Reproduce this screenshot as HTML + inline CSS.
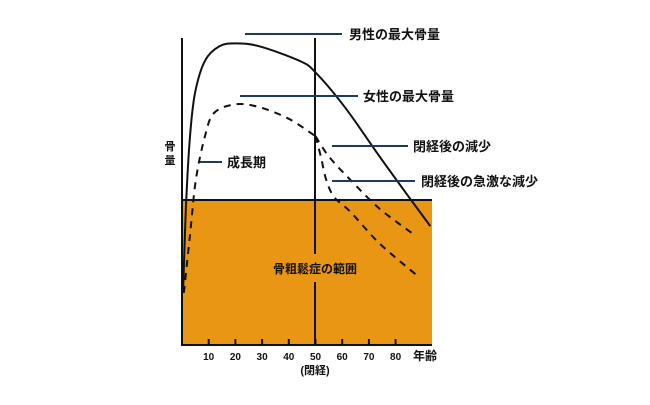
<!DOCTYPE html>
<html><head><meta charset="utf-8"><style>
body{margin:0;background:#fff}
svg text{font-family:"Liberation Sans","Noto Sans CJK JP",sans-serif;font-weight:bold;fill:#111}
</style></head><body>
<svg width="650" height="400" viewBox="0 0 650 400">
<rect x="182" y="200" width="250" height="145" fill="#e99614"/>
<g id="marks"></g>
<line x1="182" y1="200" x2="432" y2="200" stroke="#111" stroke-width="2"/>
<line x1="182" y1="38" x2="182" y2="346" stroke="#111" stroke-width="2"/>
<line x1="181" y1="345" x2="432" y2="345" stroke="#111" stroke-width="2"/>
<line x1="315" y1="38" x2="315" y2="254" stroke="#111" stroke-width="2"/>
<line x1="315" y1="282" x2="315" y2="345" stroke="#111" stroke-width="2"/>
<text x="315" y="273" font-size="12" text-anchor="middle">骨粗鬆症の範囲</text>
<g id="ticks"></g>
<text x="413" y="360" font-size="12">年齢</text>
<text x="315" y="374" font-size="11" text-anchor="middle">(閉経)</text>
<text x="170" y="150" font-size="11" text-anchor="middle">骨</text>
<text x="170" y="164" font-size="11" text-anchor="middle">量</text>
<g stroke="#1f3a5f" stroke-width="2">
<line x1="245" y1="34" x2="342" y2="34"/>
<line x1="240" y1="96" x2="358" y2="96"/>
<line x1="332" y1="146" x2="408" y2="146"/>
<line x1="332" y1="181" x2="415" y2="181"/>
<line x1="200" y1="162" x2="222" y2="162"/>
</g>
<text x="349" y="39" font-size="13">男性の最大骨量</text>
<text x="363" y="101" font-size="13">女性の最大骨量</text>
<text x="413" y="151" font-size="13">閉経後の減少</text>
<text x="421" y="186" font-size="13">閉経後の急激な減少</text>
<text x="227" y="167" font-size="13">成長期</text>
</svg>
<script>
const tickAges=[10,20,30,40,50,60,70,80];
const maleAges=[0.4,1.5,3,4.9,8.6,14,20,29,44,50,61,74,85,93];
const maleVals=[18,48,72,87,98,103,104,103,98,94,82,65,51,41];
const femaleAges=[0.7,3,5.2,8.6,12,20,29,40,50];
const femaleVals=[18,38,57,72,80,83,82,78,72];
const gradAges=[50,55,63,74,87];
const gradVals=[72,65,57,47,38];
const rapidAges=[50,52,54,57,63,74,88];
const rapidVals=[72,65,57,51,46,35,24];
const xS=a=>182+a*2.67;
const yS=v=>345-v*2.9;
const NS="http://www.w3.org/2000/svg";
function pathD(xs,ys){
  const p=xs.map((a,i)=>[xS(a),yS(ys[i])]);
  let d="M"+p[0][0]+","+p[0][1];
  for(let i=0;i<p.length-1;i++){
    const p0=p[Math.max(0,i-1)],p1=p[i],p2=p[i+1],p3=p[Math.min(p.length-1,i+2)];
    const c1=[p1[0]+(p2[0]-p0[0])/6,p1[1]+(p2[1]-p0[1])/6];
    const c2=[p2[0]-(p3[0]-p1[0])/6,p2[1]-(p3[1]-p1[1])/6];
    d+=" C"+c1+" "+c2+" "+p2;
  }
  return d;
}
const g=document.getElementById("marks");
function add(xs,ys,name,dash){
  const el=document.createElementNS(NS,"path");
  el.setAttribute("d",pathD(xs,ys));
  el.setAttribute("fill","none");
  el.setAttribute("stroke","#111");
  el.setAttribute("stroke-width","2");
  if(dash)el.setAttribute("stroke-dasharray","7 6");
  
  
  g.appendChild(el);
}
add(maleAges,maleVals,"male-curve",false);
add(femaleAges,femaleVals,"female-curve",true);
add(gradAges,gradVals,"female-gradual-decline",true);
add(rapidAges,rapidVals,"female-rapid-decline",true);
const t=document.getElementById("ticks");
tickAges.forEach(a=>{
  const l=document.createElementNS(NS,"line");
  l.setAttribute("x1",xS(a));l.setAttribute("x2",xS(a));
  l.setAttribute("y1",339);l.setAttribute("y2",345);
  l.setAttribute("stroke","#111");l.setAttribute("stroke-width","2");
  
  
  t.appendChild(l);
  const tx=document.createElementNS(NS,"text");
  tx.setAttribute("x",xS(a));tx.setAttribute("y",360);
  tx.setAttribute("font-size","10");tx.setAttribute("text-anchor","middle");
  tx.textContent=a;
  
  
  t.appendChild(tx);
});
</script>
</body></html>
